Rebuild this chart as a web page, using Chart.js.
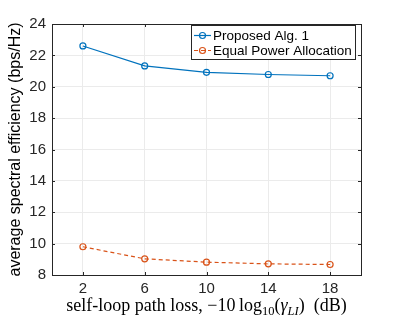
<!DOCTYPE html>
<html>
<head>
<meta charset="utf-8">
<script src="https://cdn.jsdelivr.net/npm/chart.js@4/dist/chart.umd.min.js"></script>
<style>
  html, body { margin: 0; padding: 0; background: #fff; }
  #wrap { width: 399px; height: 316px; }
</style>
</head>
<body>
<div id="wrap"><canvas id="chart" width="399" height="316"></canvas></div>
<script>
var pathLoss = [2, 6, 10, 14, 18];
var proposedAlg = [22.6, 21.33, 20.92, 20.78, 20.7];
var equalPower = [9.8, 9.03, 8.82, 8.71, 8.67];
var xTicks = [2, 6, 10, 14, 18];
var yTicks = [8, 10, 12, 14, 16, 18, 20, 22, 24];

var BLUE = '#0072BD';
var ORANGE = '#D95319';
var AXIS = '#262626';

// box, inner ticks, legend and the x label with subscripts
var matlabLook = {
    id: 'matlabLook',
    afterDraw: function(chart){
        var c = chart.ctx, a = chart.chartArea;
        var xs = chart.scales.x, ys = chart.scales.y;
        c.save();
        c.strokeStyle = AXIS;
        c.lineWidth = 1;
        c.strokeRect(Math.round(a.left) + 0.5, Math.round(a.top) + 0.5,
            Math.round(a.right - a.left), Math.round(a.bottom - a.top));
        c.beginPath();
        xTicks.forEach(function(t){
            var px = Math.round(xs.getPixelForValue(t)) + 0.5;
            c.moveTo(px, a.bottom); c.lineTo(px, a.bottom - 3);
            c.moveTo(px, a.top); c.lineTo(px, a.top + 3);
        });
        yTicks.forEach(function(t){
            var py = Math.round(ys.getPixelForValue(t)) + 0.5;
            c.moveTo(a.left, py); c.lineTo(a.left + 3, py);
            c.moveTo(a.right, py); c.lineTo(a.right - 3, py);
        });
        c.stroke();

        // legend
        var lx = 191, ly = 25, lw = 164, lh = 34;
        c.fillStyle = '#fff';
        c.fillRect(lx, ly, lw, lh);
        c.strokeStyle = '#262626';
        c.strokeRect(lx + 0.5, ly + 0.5, lw, lh);
        var rows = [
            {label: 'Proposed Alg. 1', color: BLUE, dash: []},
            {label: 'Equal Power Allocation', color: ORANGE, dash: [4, 3]}
        ];
        c.font = '13.5px "Liberation Sans", Arial, sans-serif';
        c.textBaseline = 'middle';
        rows.forEach(function(r, i){
            var y = ly + 10.5 + i * 15;
            c.strokeStyle = r.color;
            c.lineWidth = 1.2;
            c.setLineDash(r.dash);
            c.beginPath(); c.moveTo(lx + 3, y); c.lineTo(lx + 20, y); c.stroke();
            c.setLineDash([]);
            c.beginPath(); c.arc(lx + 11.5, y, 3, 0, Math.PI * 2); c.stroke();
            c.fillStyle = '#000';
            c.fillText(r.label, lx + 22, y + 0.5);
        });

        // x axis label
        var big = '18px "Liberation Serif", serif';
        var small = '12.5px "Liberation Serif", serif';
        var parts = [
            {t: 'self-loop path loss, \u221210\u2009log', f: big, dy: 0},
            {t: '10', f: small, dy: 4},
            {t: '(', f: big, dy: 0},
            {t: '\u03B3', f: 'italic ' + big, dy: 0},
            {t: 'LI', f: 'italic ' + small, dy: 4},
            {t: ')  (dB)', f: big, dy: 0}
        ];
        var total = 0;
        parts.forEach(function(p){ c.font = p.f; p.w = c.measureText(p.t).width; total += p.w; });
        var x = (a.left + a.right) / 2 - total / 2;
        c.fillStyle = '#000';
        c.textBaseline = 'alphabetic';
        parts.forEach(function(p){
            c.font = p.f;
            c.fillText(p.t, x, 311 + p.dy);
            x += p.w;
        });
        c.restore();
    }
};

new Chart(document.getElementById('chart'), {
    type: 'line',
    data: {
        labels: pathLoss,
        datasets: [
            {
                label: 'Proposed Alg. 1',
                data: pathLoss.map(function(x, i){ return {x: x, y: proposedAlg[i]}; }),
                borderColor: BLUE,
                backgroundColor: 'transparent',
                borderWidth: 1.2,
                pointRadius: 3,
                pointBorderWidth: 1.2,
                pointBackgroundColor: 'transparent',
                pointBorderColor: BLUE,
                tension: 0
            },
            {
                label: 'Equal Power Allocation',
                data: pathLoss.map(function(x, i){ return {x: x, y: equalPower[i]}; }),
                borderColor: ORANGE,
                backgroundColor: 'transparent',
                borderWidth: 1.2,
                borderDash: [4, 3],
                pointRadius: 3,
                pointBorderWidth: 1.2,
                pointBackgroundColor: 'transparent',
                pointBorderColor: ORANGE,
                tension: 0
            }
        ]
    },
    options: {
        responsive: false,
        animation: false,
        layout: { padding: { left: 0, top: 24, right: 38, bottom: 0 } },
        plugins: { legend: { display: false }, tooltip: { enabled: false } },
        scales: {
            x: {
                type: 'linear',
                min: 0, max: 20,
                afterBuildTicks: function(s){ s.ticks = xTicks.map(function(v){ return {value: v}; }); },
                afterFit: function(s){ s.height = 41; },
                grid: { color: '#ebebeb', drawTicks: false },
                border: { display: false },
                ticks: { color: '#262626', padding: 5, maxRotation: 0,
                    font: { family: '"Liberation Sans", Arial, sans-serif', size: 15 } }
            },
            y: {
                min: 8, max: 24,
                afterBuildTicks: function(s){ s.ticks = yTicks.map(function(v){ return {value: v}; }); },
                afterFit: function(s){ s.width = 52; },
                grid: { color: '#ebebeb', drawTicks: false },
                border: { display: false },
                ticks: { color: '#262626', padding: 6,
                    font: { family: '"Liberation Sans", Arial, sans-serif', size: 15 } },
                title: {
                    display: true,
                    text: 'average spectral efficiency (bps/Hz)',
                    color: '#000',
                    padding: { top: 6, bottom: 0 },
                    font: { family: '"Liberation Sans", Arial, sans-serif', size: 16 }
                }
            }
        }
    },
    plugins: [matlabLook]
});
</script>
</body>
</html>
